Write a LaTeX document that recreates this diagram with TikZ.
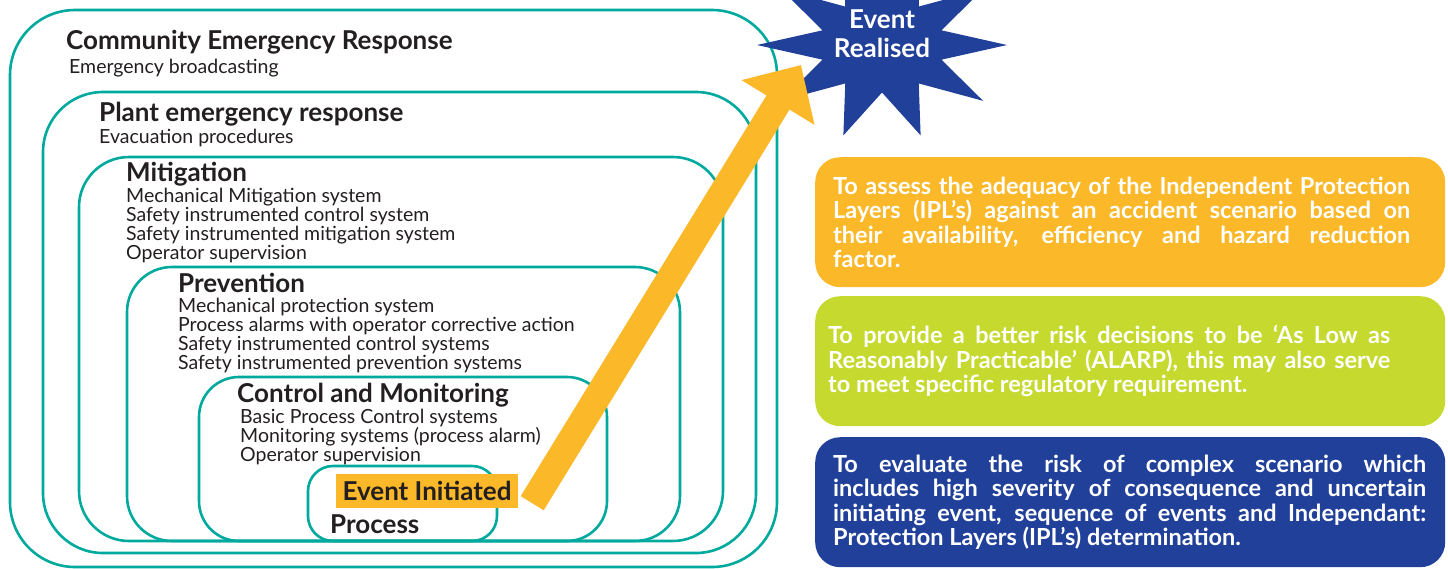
\documentclass[tikz,border=0pt]{standalone}
\usepackage{fontspec}
\setmainfont{Lato}
\usetikzlibrary{arrows.meta, positioning}
\definecolor{lyteal}{HTML}{00A99D}
\definecolor{lyyellow}{HTML}{FBB829}
\definecolor{lygreen}{HTML}{C5D92E}
\definecolor{lyblue}{HTML}{21409A}
\definecolor{lyink}{HTML}{231F20}

\begin{document}
\begin{tikzpicture}[x=1pt, y=-1pt,
  layer/.style={draw=lyteal, line width=2.6pt},
  head/.style={anchor=base west, inner sep=0pt, text=lyink,
               font=\fontsize{26}{30}\selectfont\bfseries},
  items/.style={anchor=base west, inner sep=0pt, text=lyink, align=left,
                font=\fontsize{19.5}{19}\selectfont},
  panel/.style={rounded corners=25pt, minimum width=630pt, minimum height=130pt,
                anchor=north west, inner sep=0pt},
  paneltext/.style={anchor=west, inner sep=0pt, text=white, align=justify,
                    font=\fontsize{23.5}{24.5}\selectfont\bfseries},
]
  \useasboundingbox (0,0) rectangle (1448,568);

  % nested protection layers
  \draw[layer, rounded corners=65pt] (10,10) rectangle (777,567);
  \draw[layer, rounded corners=60pt] (43,92) rectangle (756,553);
  \draw[layer, rounded corners=50pt] (79,157) rectangle (723,541);
  \draw[layer, rounded corners=45pt] (127,267) rectangle (680,541);
  \draw[layer, rounded corners=40pt] (199,377) rectangle (607,541);
  \draw[layer, rounded corners=25pt] (308,466) rectangle (497,541);

  % (multi-line item lists sit on their last baseline)
  \node[head] (community) at (66,49) {Community Emergency Response};
  \node[items] (communityitems) at (69,73) {Emergency broadcasting};

  \node[head] (plant) at (99,121) {Plant emergency response};
  \node[items] (plantitems) at (99,143) {Evacuation procedures};

  \node[head] (mitigation) at (126,181) {Mitigation};
  \node[items] (mitigationitems) at (126,259) {Mechanical Mitigation system\\
    Safety instrumented control system\\Safety instrumented mitigation system\\
    Operator supervision};

  \node[head] (prevention) at (178,292) {Prevention};
  \node[items] (preventionitems) at (178,369) {Mechanical protection system\\
    Process alarms with operator corrective action\\
    Safety instrumented control systems\\Safety instrumented prevention systems};

  \node[head] (control) at (237,402) {Control and Monitoring};
  \node[items] (controlitems) at (240,461) {Basic Process Control systems\\
    Monitoring systems (process alarm)\\Operator supervision};

  \node[head] (process) at (330,533) {Process};

  % event realised star
  \fill[lyblue] plot[variable=\k, samples at={0,...,19}]
    ({882+125*(1-0.5*mod(\k,2))*cos(18*\k)}, {45-95*(1-0.5*mod(\k,2))*sin(18*\k)}) -- cycle;
  \node[text=white, align=center, font=\fontsize{26}{29}\selectfont\bfseries]
    (realised) at (882,34) {Event\\Realised};

  \node[fill=lyyellow, minimum width=182pt, minimum height=34pt, inner sep=0pt,
        text=lyink, font=\fontsize{26}{30}\selectfont\bfseries]
    (initiated) at (427,491) {Event Initiated};

  \coordinate (tip) at (801,65);
  \draw[lyyellow, line width=27pt, -{Triangle[length=44pt, width=83pt]}]
    ([shift={(14,-5)}]initiated.south east) -- (tip);

  % purpose panels
  \node[panel, fill=lyyellow] (assess) at (815,157) {};
  \node[paneltext, text width=577pt] (assesstext) at ([xshift=18pt]assess.west)
    {To assess the adequacy of the Independent Protection\linebreak
     Layers (IPL’s) against an accident scenario based on\linebreak
     their availability, efficiency and hazard reduction\linebreak factor.};

  \node[panel, fill=lygreen] (alarp) at (815,296) {};
  \node[paneltext, text width=562pt] (alarptext) at ([xshift=13pt]alarp.west)
    {To provide a better risk decisions to be ‘As Low as\linebreak
     Reasonably Practicable’ (ALARP), this may also serve\linebreak
     to meet specific regulatory requirement.};

  \node[panel, fill=lyblue] (evaluate) at (815,437) {};
  \node[paneltext, text width=593pt] (evaluatetext) at ([xshift=18pt]evaluate.west)
    {To evaluate the risk of complex scenario which\linebreak
     includes high severity of consequence and uncertain\linebreak
     initiating event, sequence of events and Independant:\linebreak
     Protection Layers (IPL’s) determination.};
\end{tikzpicture}
\end{document}
